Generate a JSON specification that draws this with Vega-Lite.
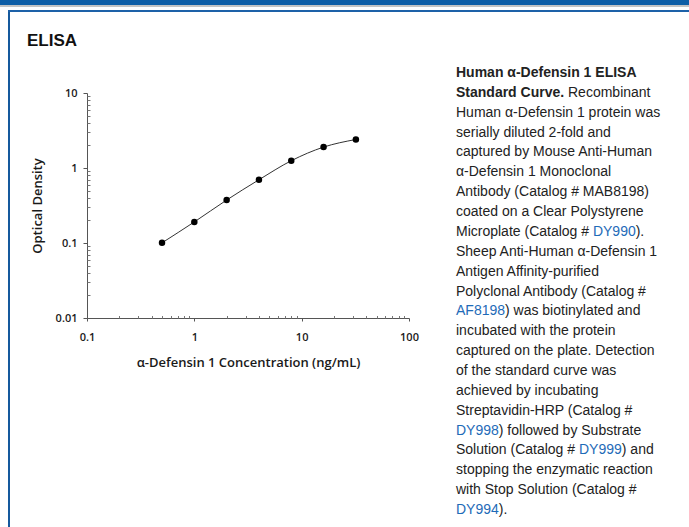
{
  "$schema": "https://vega.github.io/schema/vega-lite/v6.json",
  "padding": 0,
  "background": "white",
  "config": {"view": {"stroke": null}, "font": "Liberation Sans"},
  "datasets": {
    "curve": [
      {"conc": 0.5, "od": 0.1005},
      {"conc": 1, "od": 0.191},
      {"conc": 2, "od": 0.374},
      {"conc": 4, "od": 0.697},
      {"conc": 8, "od": 1.25},
      {"conc": 16, "od": 1.9},
      {"conc": 32, "od": 2.4}
    ],
    "bold": [
      {"line": 1, "text": "Human α-Defensin 1 ELISA"},
      {"line": 2, "text": "Standard Curve."}
    ],
    "afterBold": [
      {"line": 2, "text": "Recombinant"}
    ],
    "body": [
      {"line": 3, "text": "Human α-Defensin 1 protein was"},
      {"line": 4, "text": "serially diluted 2-fold and"},
      {"line": 5, "text": "captured by Mouse Anti-Human"},
      {"line": 6, "text": "α-Defensin 1 Monoclonal"},
      {"line": 7, "text": "Antibody (Catalog # MAB8198)"},
      {"line": 8, "text": "coated on a Clear Polystyrene"},
      {"line": 9, "text": "Microplate (Catalog #"},
      {"line": 10, "text": "Sheep Anti-Human α-Defensin 1"},
      {"line": 11, "text": "Antigen Affinity-purified"},
      {"line": 12, "text": "Polyclonal Antibody (Catalog #"},
      {"line": 14, "text": "incubated with the protein"},
      {"line": 15, "text": "captured on the plate. Detection"},
      {"line": 16, "text": "of the standard curve was"},
      {"line": 17, "text": "achieved by incubating"},
      {"line": 18, "text": "Streptavidin-HRP (Catalog #"},
      {"line": 20, "text": "Solution (Catalog #"},
      {"line": 21, "text": "stopping the enzymatic reaction"},
      {"line": 22, "text": "with Stop Solution (Catalog #"}
    ],
    "linkStart": [
      {"line": 13, "text": "AF8198"},
      {"line": 19, "text": "DY998"},
      {"line": 23, "text": "DY994"}
    ],
    "linkDY990": [{"line": 9, "text": "DY990"}],
    "linkDY999": [{"line": 20, "text": "DY999"}],
    "afterAF8198": [{"line": 13, "text": ") was biotinylated and"}],
    "afterDY99x": [
      {"line": 19, "text": ") followed by Substrate"},
      {"line": 23, "text": ")."}
    ],
    "afterDY990": [{"line": 9, "text": ")."}],
    "afterDY999": [{"line": 20, "text": ") and"}]
  },
  "spacing": 0,
  "vconcat": [
    {"width": 689, "height": 5, "data": {"values": []}, "mark": "point", "view": {"fill": "#0e5ea6", "stroke": null}},
    {"width": 689, "height": 2, "data": {"values": []}, "mark": "point", "view": {"fill": "#c4c4c4", "stroke": null}},
    {"width": 1, "height": 3, "data": {"values": []}, "mark": "point"},
    {
      "spacing": 0,
      "hconcat": [
        {"width": 8, "height": 2, "data": {"values": []}, "mark": "point"},
        {"width": 681, "height": 2, "data": {"values": []}, "mark": "point", "view": {"fill": "#1d61a8", "stroke": null}}
      ]
    },
    {
      "spacing": 0,
      "hconcat": [
        {"width": 8, "height": 1, "data": {"values": []}, "mark": "point"},
        {"width": 2, "height": 515, "data": {"values": []}, "mark": "point", "view": {"fill": "#15599d", "stroke": null}},
        {"width": 17, "height": 1, "data": {"values": []}, "mark": "point"},
        {
          "spacing": 0,
          "vconcat": [
            {"width": 1, "height": 20, "data": {"values": []}, "mark": "point"},
            {
              "width": 322,
              "height": 225,
              "title": {"text": "ELISA", "anchor": "start", "frame": "group", "dx": -60, "offset": 37, "font": "Liberation Sans", "fontSize": 17, "fontWeight": "bold", "color": "#111111"},
              "data": {"name": "curve"},
              "layer": [
                {
                  "mark": {"type": "line", "interpolate": "monotone", "color": "#333333", "strokeWidth": 1},
                  "encoding": {
                    "x": {"field": "conc", "type": "quantitative",
                      "scale": {"type": "log", "domain": [0.1, 100], "nice": false},
                      "axis": {"orient": "bottom", "values": [0.1, 1, 10, 100], "format": "~g", "title": "α-Defensin 1 Concentration (ng/mL)", "grid": false, "tickSize": 3, "labelPadding": 10, "labelFlush": false, "labelOverlap": false, "labelFont": "Open Sans", "labelFontWeight": 600, "labelFontSize": 11, "labelColor": "#1a1a1a", "titleFont": "Open Sans", "titleFontWeight": 600, "titleFontSize": 13, "titleColor": "#1a1a1a", "titlePadding": 14.5, "domainColor": "#555555", "tickColor": "#555555"}},
                    "y": {"field": "od", "type": "quantitative",
                      "scale": {"type": "log", "domain": [0.01, 10], "nice": false},
                      "axis": {"orient": "left", "values": [0.01, 0.1, 1, 10], "format": "~g", "title": "Optical Density", "grid": false, "tickSize": 4, "labelPadding": 6, "labelFlush": false, "labelOverlap": false, "labelFont": "Open Sans", "labelFontWeight": 600, "labelFontSize": 11, "labelColor": "#1a1a1a", "titleFont": "Open Sans", "titleFontWeight": 600, "titleFontSize": 13, "titleColor": "#1a1a1a", "titlePadding": 11, "domainColor": "#555555", "tickColor": "#555555"}}
                  }
                },
                {
                  "mark": {"type": "circle", "color": "#000000", "size": 42, "opacity": 1},
                  "encoding": {
                    "x": {"field": "conc", "type": "quantitative",
                      "axis": {"orient": "bottom", "values": [0.2, 0.3, 0.4, 0.5, 0.6, 0.7, 0.8, 0.9, 2, 3, 4, 5, 6, 7, 8, 9, 20, 30, 40, 50, 60, 70, 80, 90], "labels": false, "domain": false, "grid": false, "title": null, "tickSize": -2.5, "tickColor": "#777777"}},
                    "y": {"field": "od", "type": "quantitative",
                      "axis": {"orient": "left", "values": [0.02, 0.03, 0.04, 0.05, 0.06, 0.07, 0.08, 0.09, 0.2, 0.3, 0.4, 0.5, 0.6, 0.7, 0.8, 0.9, 2, 3, 4, 5, 6, 7, 8, 9], "labels": false, "domain": false, "grid": false, "title": null, "tickSize": -3, "tickColor": "#777777"}}
                  }
                }
              ],
              "resolve": {"axis": {"x": "independent", "y": "independent"}}
            }
          ]
        },
        {"width": 37, "height": 1, "data": {"values": []}, "mark": "point"},
        {
          "spacing": 0,
          "vconcat": [
            {"width": 1, "height": 54, "data": {"values": []}, "mark": "point"},
            {
              "width": 220,
              "height": 437,
              "encoding": {
                "x": {"value": 0},
                "y": {"field": "line", "type": "quantitative", "scale": {"domain": [1, 23], "reverse": true, "nice": false, "zero": false}, "axis": null},
                "text": {"field": "text"}
              },
              "layer": [
                {"data": {"name": "body"}, "mark": {"type": "text", "align": "left", "baseline": "middle", "font": "Liberation Sans", "fontSize": 14, "color": "#222222"}},
                {"data": {"name": "bold"}, "mark": {"type": "text", "align": "left", "baseline": "middle", "font": "Liberation Sans", "fontSize": 14, "fontWeight": "bold", "color": "#222222"}},
                {"data": {"name": "afterBold"}, "mark": {"type": "text", "align": "left", "baseline": "middle", "font": "Liberation Sans", "fontSize": 14, "color": "#222222", "dx": 112}},
                {"data": {"name": "linkStart"}, "mark": {"type": "text", "align": "left", "baseline": "middle", "font": "Liberation Sans", "fontSize": 14, "color": "#1e6bb8"}},
                {"data": {"name": "linkDY990"}, "mark": {"type": "text", "align": "left", "baseline": "middle", "font": "Liberation Sans", "fontSize": 14, "color": "#1e6bb8", "dx": 136.9}},
                {"data": {"name": "linkDY999"}, "mark": {"type": "text", "align": "left", "baseline": "middle", "font": "Liberation Sans", "fontSize": 14, "color": "#1e6bb8", "dx": 123}},
                {"data": {"name": "afterAF8198"}, "mark": {"type": "text", "align": "left", "baseline": "middle", "font": "Liberation Sans", "fontSize": 14, "color": "#222222", "dx": 49}},
                {"data": {"name": "afterDY99x"}, "mark": {"type": "text", "align": "left", "baseline": "middle", "font": "Liberation Sans", "fontSize": 14, "color": "#222222", "dx": 42.8}},
                {"data": {"name": "afterDY990"}, "mark": {"type": "text", "align": "left", "baseline": "middle", "font": "Liberation Sans", "fontSize": 14, "color": "#222222", "dx": 179.7}},
                {"data": {"name": "afterDY999"}, "mark": {"type": "text", "align": "left", "baseline": "middle", "font": "Liberation Sans", "fontSize": 14, "color": "#222222", "dx": 165.8}}
              ]
            }
          ]
        }
      ]
    }
  ]
}
